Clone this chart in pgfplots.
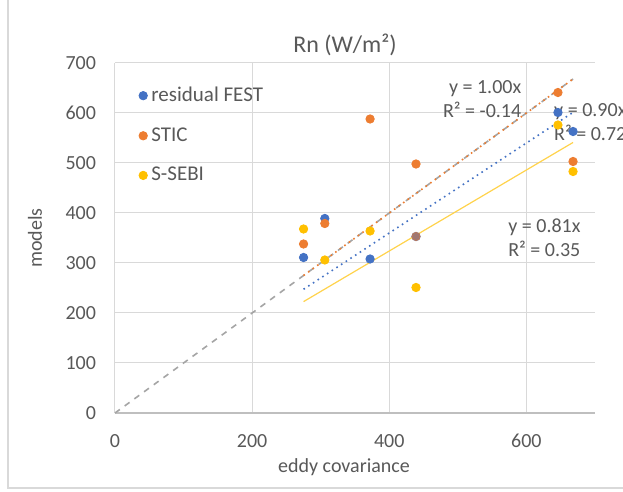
\documentclass[border=0pt]{standalone}
\usepackage{pgfplots}
\pgfplotsset{compat=1.18}
\usepackage{fontspec}
\setmainfont{Carlito}
\definecolor{cblue}{HTML}{4472C4}
\definecolor{corange}{HTML}{ED7D31}
\definecolor{cgold}{HTML}{FFC000}
\definecolor{cgrid}{HTML}{D9D9D9}
\definecolor{caxis}{HTML}{BFBFBF}
\definecolor{ctext}{HTML}{595959}
\definecolor{cgray}{HTML}{A5A5A5}
\begin{document}
\begin{tikzpicture}[x=1pt,y=1pt]
\useasboundingbox (0,0) rectangle (311.5,-246);
\fill[white] (0,0) rectangle (311.5,-246);
\draw[cgrid, line width=0.6pt] (4,1) -- (4,-244) -- (312,-244);
\begin{axis}[
  at={(57.5pt,-206.5pt)}, anchor=south west,
  width=240pt, height=175pt, scale only axis,
  xmin=0, xmax=700, ymin=0, ymax=700,
  xtick={0,200,400,600}, ytick={0,100,...,700},
  grid=major, grid style={cgrid, line width=0.5pt},
  axis line style={draw=none},
  major tick length=0pt,
  tick label style={font=\fontsize{10}{12}\selectfont, text=ctext},
  /pgf/number format/assume math mode=true,
  yticklabel style={xshift=-6pt},
  xticklabel style={yshift=-7pt},
  clip=false,
  legend style={draw=none, fill=none, at={(0.045,0.95)}, anchor=north west,
    font=\fontsize{10.5}{12}\selectfont, text=ctext, row sep=7.5pt,
    inner sep=1pt},
  legend cell align=left,
  legend image code/.code={\draw[#1] plot coordinates {(0.2cm,0cm)};},
]
\draw[caxis, line width=0.6pt] (axis cs:0,0) -- (axis cs:700,0);
% trendlines
\addplot[cgray, dashed, line width=0.8pt, forget plot] coordinates {(0,0) (668,668)};
\addplot[corange, dotted, line width=0.8pt, forget plot] coordinates {(275,275) (668,668)};
\addplot[cblue, dotted, line width=0.8pt, forget plot] coordinates {(275,247.5) (668,601.2)};
\addplot[cgold!70, line width=0.6pt, forget plot] coordinates {(275,222.75) (668,541.08)};
% data
\addplot[only marks, mark=*, mark size=2.1pt, cblue, mark options={draw=cblue, fill=cblue}]
  coordinates {(275,311) (306,389) (372,308) (439,353) (646,601) (668,563)};
\addlegendentry{residual FEST}
\addplot[only marks, mark=*, mark size=2.1pt, corange, mark options={draw=corange, fill=corange}]
  coordinates {(275,338) (306,379) (372,588) (439,498) (646,641) (668,503)};
\addlegendentry{STIC}
\addplot[only marks, mark=*, mark size=2.1pt, cgold, mark options={draw=cgold, fill=cgold}]
  coordinates {(275,368) (306,306) (372,364) (439,251) (646,576) (668,483)};
\addlegendentry{S-SEBI}
\addplot[only marks, mark=*, mark size=2.1pt, corange, opacity=0.55, forget plot]
  coordinates {(439,353)};
% trendline labels
\node[anchor=east, align=right, text=ctext, font=\fontsize{10}{12}\selectfont, inner sep=0pt]
  at (axis cs:593,628) {y = 1.00x\\R² = -0.14};
\node[anchor=west, align=left, text=ctext, font=\fontsize{10}{12}\selectfont, inner sep=0pt]
  at (axis cs:640,582) {y = 0.90x\\R² = 0.72};
\node[anchor=west, align=left, text=ctext, font=\fontsize{10}{12}\selectfont, inner sep=0pt]
  at (axis cs:573,350) {y = 0.81x\\R² = 0.35};
\end{axis}
\node[text=ctext, font=\fontsize{12}{14}\selectfont] at (172.5,-22.5) {Rn (W/m²)};
\node[text=ctext, font=\fontsize{10}{12}\selectfont] at (172,-233.5) {eddy covariance};
\node[text=ctext, font=\fontsize{10}{12}\selectfont, rotate=90] at (17.5,-119) {models};
\end{tikzpicture}
\end{document}
